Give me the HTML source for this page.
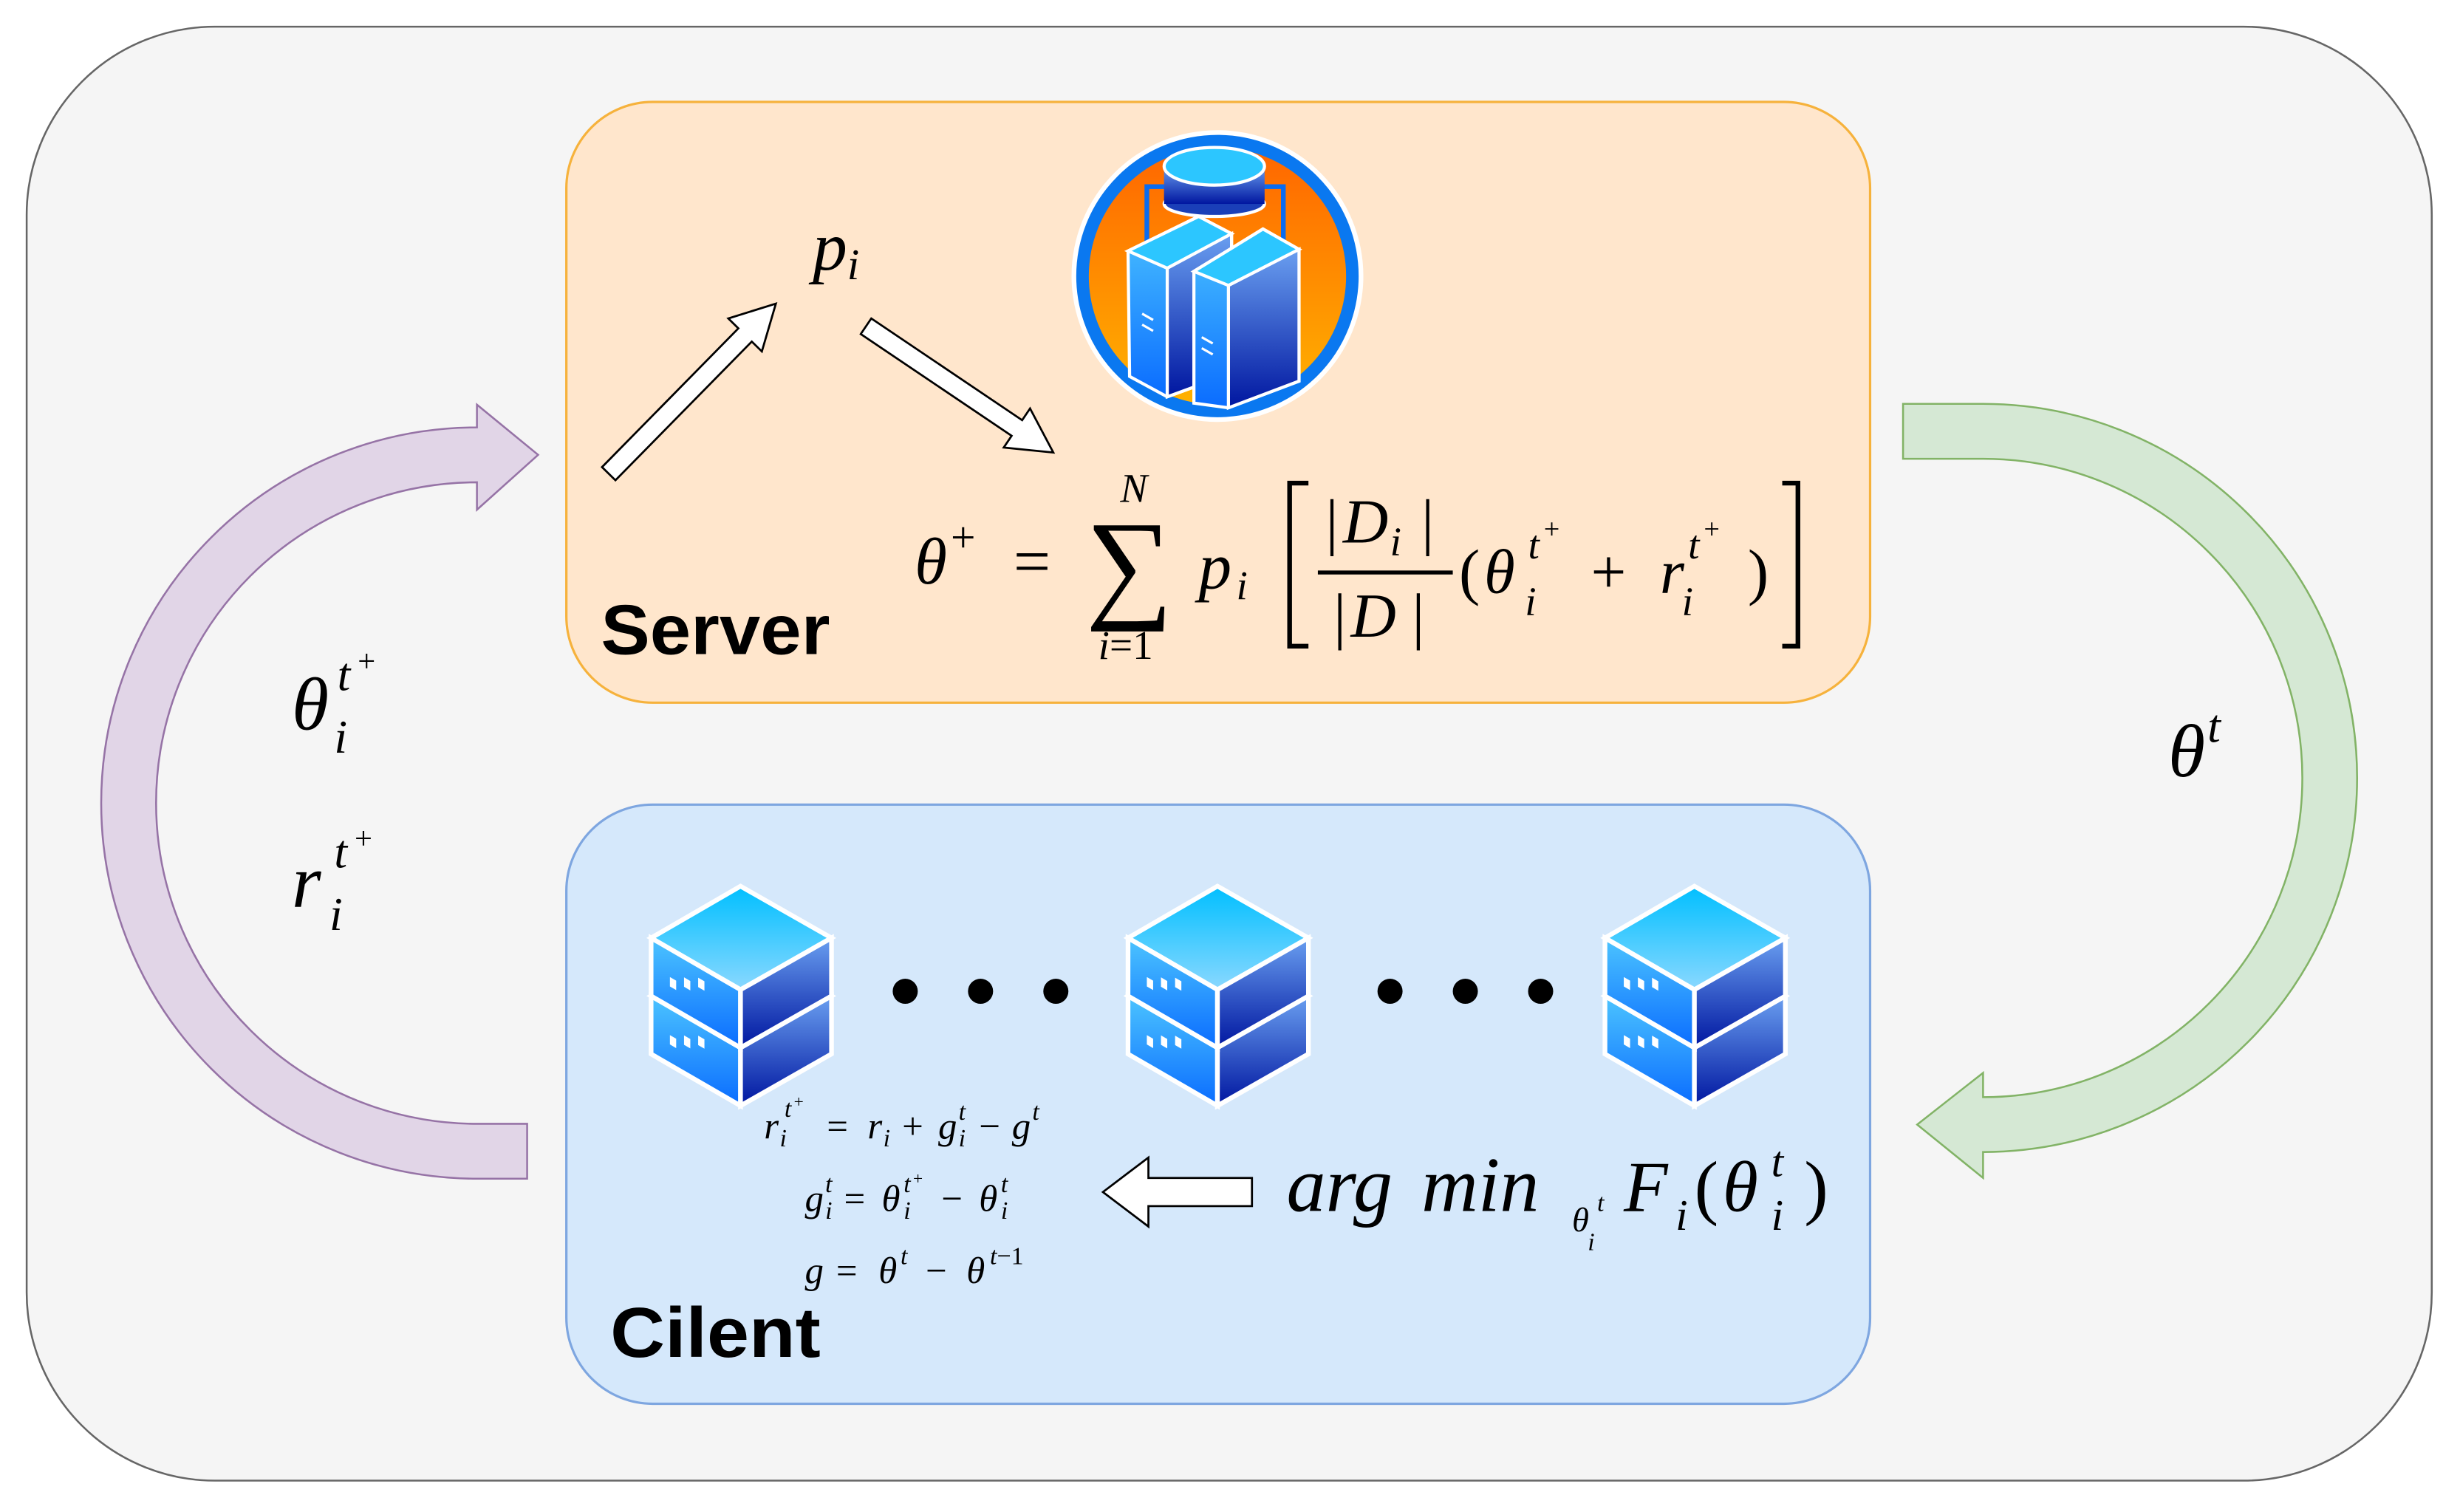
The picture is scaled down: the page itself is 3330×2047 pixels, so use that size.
<!DOCTYPE html>
<html><head><meta charset="utf-8"><style>
html,body{margin:0;padding:0;background:#fff;}
svg{display:block;}
.m{font-family:"Liberation Serif",serif;font-style:italic;fill:#000;}
.r{font-family:"Liberation Serif",serif;font-style:normal;fill:#000;}
</style></head><body>
<svg width="3330" height="2047" viewBox="0 0 1568 964" preserveAspectRatio="none" xmlns="http://www.w3.org/2000/svg">
<defs>
<linearGradient id="org" x1="0" y1="0" x2="0" y2="1"><stop offset="0" stop-color="#ff6400"/><stop offset="1" stop-color="#ffb400"/></linearGradient>
<linearGradient id="bl1" x1="0" y1="0" x2="0" y2="1"><stop offset="0" stop-color="#4cc4ff"/><stop offset="1" stop-color="#0a6cff"/></linearGradient>
<linearGradient id="bl2" x1="0" y1="0" x2="0" y2="1"><stop offset="0" stop-color="#6a9ff0"/><stop offset="1" stop-color="#0016a0"/></linearGradient>
<linearGradient id="bl3" x1="0" y1="0" x2="0" y2="1"><stop offset="0" stop-color="#00bfff"/><stop offset="1" stop-color="#8ad8ff"/></linearGradient>
<g id="slab">
<polygon points="0,36 57,3 115,36 57,69" fill="url(#bl3)" stroke="#fff" stroke-width="3"/>
<polygon points="0,36 57,69 57,106 0,73" fill="url(#bl1)" stroke="#fff" stroke-width="3"/>
<polygon points="57,69 115,36 115,73 57,106" fill="url(#bl2)" stroke="#fff" stroke-width="3"/>
<rect x="12" y="61" width="4" height="6" fill="#fff" transform="skewY(30) translate(0,-7)"/>
<rect x="21" y="66" width="4" height="6" fill="#fff" transform="skewY(30) translate(0,-17)"/>
<rect x="30" y="71" width="4" height="6" fill="#fff" transform="skewY(30) translate(0,-27)"/>
</g>
<g id="client">
<use href="#slab" y="37"/>
<use href="#slab" y="0"/>
</g>
</defs>

<rect x="17" y="17" width="1533" height="927" rx="120" ry="120" fill="#f5f5f5" stroke="#666" stroke-width="1.2"/>

<rect x="361" y="65" width="831" height="383" rx="55" ry="55" fill="#ffe6cc" stroke="#f6b23c" stroke-width="1.5"/>
<rect x="361" y="513" width="831" height="382" rx="55" ry="55" fill="#d5e8fb" stroke="#7ea6e0" stroke-width="1.5"/>

<path d="M336,751.5 L304,751.5 A239.5,239.5 0 0 1 304,272.5 L304,258 L343,290 L304,325 L304,307.5 A204.5,204.5 0 0 0 304,716.5 L336,716.5 Z" fill="#e1d5e7" stroke="#9673a6" stroke-width="1.2"/>
<path d="M1213,257.5 L1264,257.5 A238.5,238.5 0 0 1 1264,734.5 L1264,751 L1222,717 L1264,684 L1264,699.5 A203.5,203.5 0 0 0 1264,292.5 L1213,292.5 Z" fill="#d5e8d4" stroke="#82b366" stroke-width="1.2"/>

<g transform="translate(388,302) rotate(-45.5)"><polygon points="0,-6 124,-6 124,-15 152,0 124,15 124,6 0,6" fill="#fff" stroke="#000" stroke-width="1.3"/></g>
<g transform="translate(552,208) rotate(34)"><polygon points="0,-6 116,-6 116,-15 144,0 116,15 116,6 0,6" fill="#fff" stroke="#000" stroke-width="1.3"/></g>
<g transform="translate(798,760) rotate(180)"><polygon points="0,-9 66,-9 66,-22 95,0 66,22 66,9 0,9" fill="#fff" stroke="#000" stroke-width="1.3"/></g>

<circle cx="776" cy="176" r="93" fill="#fff"/>
<circle cx="776" cy="176" r="86" fill="url(#org)" stroke="#0a78f0" stroke-width="8"/>
<rect x="731" y="119" width="87" height="60" fill="none" stroke="#0a6cf0" stroke-width="3"/>
<rect x="742" y="106" width="64" height="24" fill="url(#bl2)"/>
<ellipse cx="774" cy="130" rx="32" ry="8" fill="#1a3fb8" stroke="#fff" stroke-width="2"/>
<rect x="742" y="106" width="64" height="24" fill="url(#bl2)"/>
<ellipse cx="774" cy="106" rx="32" ry="12" fill="#2cc6ff" stroke="#fff" stroke-width="2"/>
<polygon points="719,160 764,138 785,149 785,238 744,253 720,240" fill="url(#bl1)" stroke="#fff" stroke-width="2"/>
<polygon points="719,160 764,138 785,149 744,171" fill="#2cc6ff" stroke="#fff" stroke-width="2"/>
<polygon points="744,171 785,149 785,238 744,253" fill="url(#bl2)" stroke="#fff" stroke-width="2"/>
<polygon points="761,173 805,146 828,159 828,243 783,260 761,257" fill="url(#bl1)" stroke="#fff" stroke-width="2"/>
<polygon points="761,173 805,146 828,159 783,182" fill="#2cc6ff" stroke="#fff" stroke-width="2"/>
<polygon points="783,182 828,159 828,243 783,260" fill="url(#bl2)" stroke="#fff" stroke-width="2"/>
<g stroke="#fff" stroke-width="1.5"><line x1="728" y1="200" x2="735" y2="204"/><line x1="728" y1="207" x2="735" y2="211"/><line x1="766" y1="215" x2="773" y2="219"/><line x1="766" y1="222" x2="773" y2="226"/></g>

<use href="#client" x="415" y="562"/>
<use href="#client" x="719" y="562"/>
<use href="#client" x="1023" y="562"/>
<g fill="#000">
<circle cx="577" cy="632" r="8"/><circle cx="625" cy="632" r="8"/><circle cx="673" cy="632" r="8"/>
<circle cx="886" cy="632" r="8"/><circle cx="934" cy="632" r="8"/><circle cx="982" cy="632" r="8"/>
</g>

<text x="383" y="417" font-family="Liberation Sans,sans-serif" font-weight="bold" font-size="45" textLength="146" lengthAdjust="spacingAndGlyphs">Server</text>
<text x="389" y="865" font-family="Liberation Sans,sans-serif" font-weight="bold" font-size="45" textLength="134" lengthAdjust="spacingAndGlyphs">Cilent</text>

<text class="m" x="518" y="172" font-size="44">p</text><text class="m" x="540" y="178" font-size="28">i</text>

<text class="m" x="583" y="372" font-size="42">θ</text><text class="r" x="606" y="352" font-size="28">+</text>
<text class="r" x="646" y="372" font-size="42">=</text>
<text class="r" x="692" y="386" font-size="78">∑</text>
<text class="m" x="714" y="320" font-size="26">N</text>
<text class="m" x="700" y="420" font-size="26">i<tspan class="r">=1</tspan></text>
<text class="m" x="764" y="375" font-size="42">p</text><text class="m" x="788" y="382" font-size="26">i</text>
<path d="M834,308 L822,308 L822,412 L834,412 M1136,308 L1146,308 L1146,412 L1136,412" fill="none" stroke="#000" stroke-width="3"/>
<text class="r" x="845" y="346" font-size="40">|</text><text class="m" x="856" y="346" font-size="40">D</text><text class="m" x="886" y="354" font-size="26">i</text><text class="r" x="906" y="346" font-size="40">|</text>
<line x1="840" y1="365" x2="926" y2="365" stroke="#000" stroke-width="2.5"/>
<text class="r" x="850" y="406" font-size="40">|</text><text class="m" x="861" y="406" font-size="40">D</text><text class="r" x="900" y="406" font-size="40">|</text>
<text class="r" x="930" y="378" font-size="40">(</text>
<text class="m" x="946" y="378" font-size="40">θ</text>
<text class="m" x="974" y="356" font-size="26">t</text><text class="r" x="984" y="343" font-size="18">+</text>
<text class="m" x="972" y="392" font-size="26">i</text>
<text class="r" x="1014" y="378" font-size="40">+</text>
<text class="m" x="1058" y="378" font-size="40">r</text>
<text class="m" x="1076" y="356" font-size="26">t</text><text class="r" x="1086" y="343" font-size="18">+</text>
<text class="m" x="1072" y="392" font-size="26">i</text>
<text class="r" x="1114" y="378" font-size="40">)</text>

<text class="m" x="186" y="465" font-size="48">θ</text><text class="m" x="213" y="480" font-size="30">i</text>
<text class="m" x="215" y="440" font-size="30">t</text><text class="r" x="228" y="428" font-size="20">+</text>
<text class="m" x="186" y="578" font-size="48">r</text><text class="m" x="210" y="593" font-size="30">i</text>
<text class="m" x="213" y="553" font-size="30">t</text><text class="r" x="226" y="541" font-size="20">+</text>

<text class="m" x="1382" y="495" font-size="48">θ</text><text class="m" x="1407" y="473" font-size="30">t</text>

<text class="m" x="820" y="772" font-size="50">arg</text>
<text class="m" x="906" y="772" font-size="50">min</text>
<text class="m" x="1002" y="785" font-size="22">θ</text>
<text class="m" x="1018" y="772" font-size="16">t</text>
<text class="m" x="1012" y="797" font-size="16">i</text>
<text class="m" x="1035" y="772" font-size="46">F</text>
<text class="m" x="1068" y="784" font-size="28">i</text>
<text class="r" x="1080" y="772" font-size="46">(</text>
<text class="m" x="1098" y="772" font-size="46">θ</text>
<text class="m" x="1129" y="750" font-size="28">t</text>
<text class="m" x="1129" y="784" font-size="28">i</text>
<text class="r" x="1150" y="772" font-size="46">)</text>

<text class="m" x="487" y="726" font-size="24">r</text><text class="m" x="497" y="731" font-size="16">i</text><text class="m" x="500" y="712" font-size="16">t</text><text class="r" x="506" y="706" font-size="11">+</text>
<text class="r" x="527" y="726" font-size="24">=</text><text class="m" x="553" y="726" font-size="24">r</text><text class="m" x="563" y="731" font-size="16">i</text>
<text class="r" x="575" y="726" font-size="24">+</text><text class="m" x="598" y="726" font-size="24">g</text><text class="m" x="611" y="714" font-size="16">t</text><text class="m" x="611" y="731" font-size="16">i</text>
<text class="r" x="624" y="726" font-size="24">−</text><text class="m" x="645" y="726" font-size="24">g</text><text class="m" x="658" y="714" font-size="16">t</text>
<text class="m" x="513" y="772" font-size="24">g</text><text class="m" x="526" y="760" font-size="16">t</text><text class="m" x="526" y="777" font-size="16">i</text>
<text class="r" x="538" y="772" font-size="24">=</text><text class="m" x="562" y="772" font-size="24">θ</text><text class="m" x="576" y="760" font-size="16">t</text><text class="r" x="582" y="755" font-size="11">+</text><text class="m" x="576" y="777" font-size="16">i</text>
<text class="r" x="600" y="772" font-size="24">−</text><text class="m" x="624" y="772" font-size="24">θ</text><text class="m" x="638" y="760" font-size="16">t</text><text class="m" x="638" y="777" font-size="16">i</text>
<text class="m" x="513" y="818" font-size="24">g</text><text class="r" x="533" y="818" font-size="24">=</text><text class="m" x="560" y="818" font-size="24">θ</text><text class="m" x="574" y="806" font-size="16">t</text>
<text class="r" x="590" y="818" font-size="24">−</text><text class="m" x="616" y="818" font-size="24">θ</text><text class="m" x="631" y="806" font-size="16">t<tspan class="r">−1</tspan></text>
</svg>
</body></html>
